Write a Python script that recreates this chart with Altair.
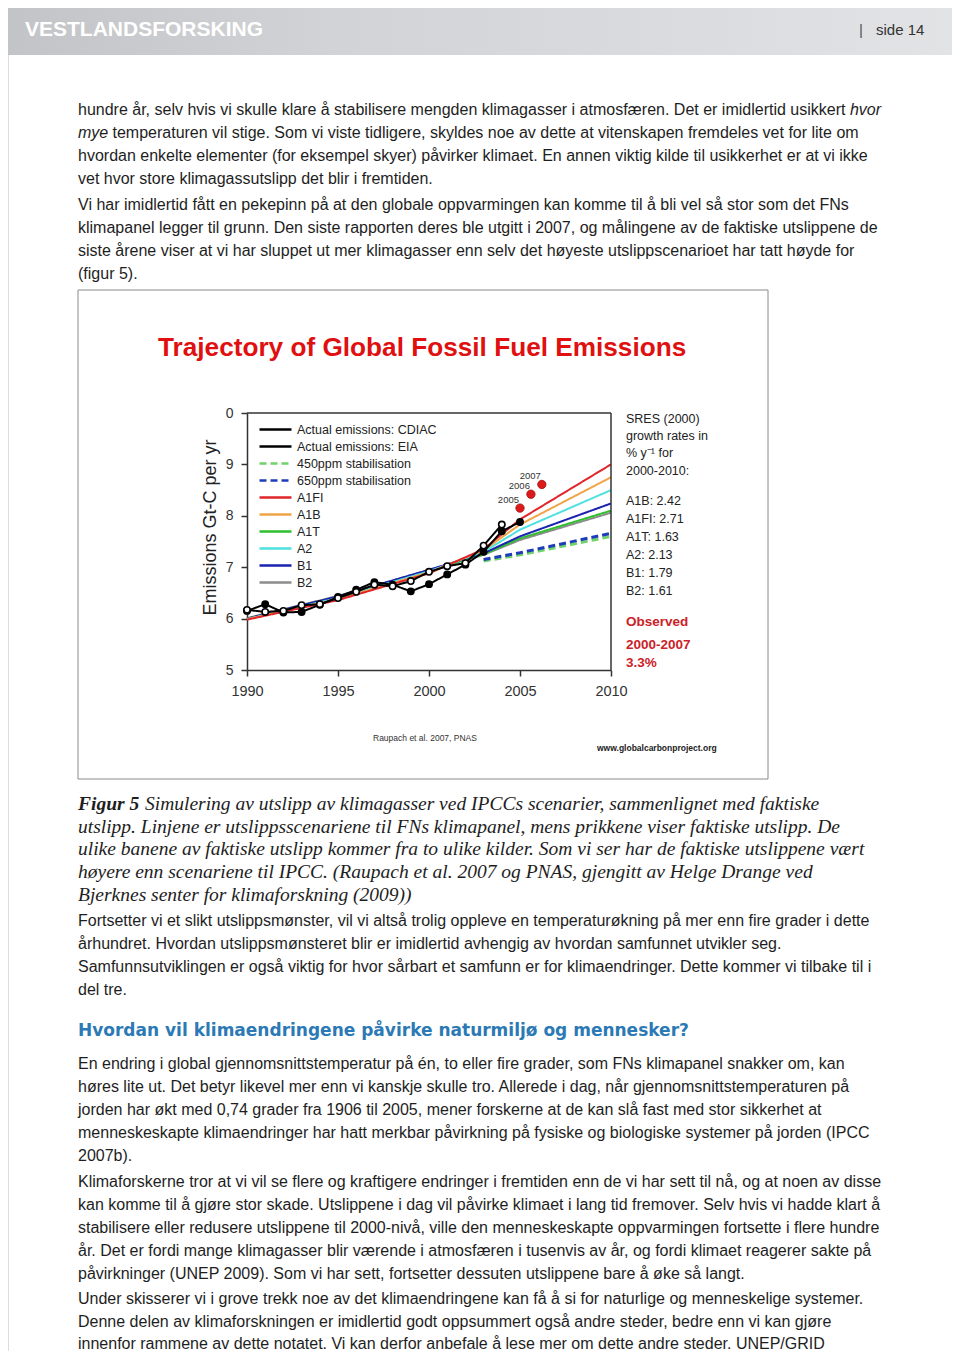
import altair as alt
import pandas as pd

W, H = 944, 1343
OX, OY = 8, 8  # page margin: page px -> chart px

SANS = "Liberation Sans, Arial, Helvetica, sans-serif"
SERIF = "Liberation Serif, Times New Roman, serif"
TXT = "#1e1e1e"

# ---------------- chart data ----------------
obs_years = list(range(1990, 2006))
cdiac_vals = [6.15, 6.28, 6.12, 6.13, 6.27, 6.42, 6.56, 6.71, 6.66, 6.53,
              6.67, 6.86, 7.05, 7.30, 7.70, 7.88]
eia_years = list(range(1990, 2005))
eia_vals = [6.17, 6.13, 6.15, 6.26, 6.28, 6.40, 6.52, 6.66, 6.63, 6.73,
            6.91, 7.02, 7.08, 7.42, 7.83]

scen_years = [1990, 1995, 2000, 2003, 2005, 2010]
a1fi_vals = [5.98, 6.36, 6.88, 7.35, 7.93, 9.00]
a1b_vals = [5.99, 6.38, 6.90, 7.33, 7.83, 8.75]
a2_vals = [5.99, 6.40, 6.92, 7.30, 7.73, 8.50]
b1_vals = [6.00, 6.43, 6.95, 7.27, 7.60, 8.24]
a1t_vals = [6.00, 6.42, 6.93, 7.25, 7.56, 8.10]
b2_vals = [6.01, 6.44, 6.94, 7.24, 7.53, 8.06]

stab_years = [2003, 2005, 2010]
s650_vals = [7.15, 7.28, 7.66]
s450_vals = [7.12, 7.24, 7.60]

recent_years = [2005.0, 2005.6, 2006.2]
recent_vals = [8.15, 8.42, 8.61]
recent_labels = ["2005", "2006", "2007"]

x_ticks = [1990, 1995, 2000, 2005, 2010]
y_ticks = [5, 6, 7, 8, 9, 10]

series_names = ["Actual emissions: CDIAC", "Actual emissions: EIA",
                "450ppm stabilisation", "650ppm stabilisation",
                "A1FI", "A1B", "A1T", "A2", "B1", "B2"]
series_colors = ["#000000", "#000000", "#6fd36a", "#1f3db8",
                 "#e0262a", "#f0a448", "#2fbf2f", "#4fe0e0", "#1a22b0", "#8c8c8c"]
series_dashes = [[1, 0], [1, 0], [7, 4], [7, 4],
                 [1, 0], [1, 0], [1, 0], [1, 0], [1, 0], [1, 0]]

sres_head = ["SRES (2000)", "growth rates in", "% y\u207b\u00b9 for", "2000-2010:"]
sres_rates = ["A1B: 2.42", "A1FI: 2.71", "A1T: 1.63", "A2: 2.13", "B1: 1.79", "B2: 1.61"]
observed = ["Observed", "2000-2007", "3.3%"]

# ---------------- page text ----------------
p1_line1 = "hundre år, selv hvis vi skulle klare å stabilisere mengden klimagasser i atmosfæren. Det er imidlertid usikkert"
p1_line2 = "temperaturen vil stige. Som vi viste tidligere, skyldes noe av dette at vitenskapen fremdeles vet for lite om"
p1_rest = ["hvordan enkelte elementer (for eksempel skyer) påvirker klimaet. En annen viktig kilde til usikkerhet er at vi ikke",
           "vet hvor store klimagassutslipp det blir i fremtiden."]
p2 = ["Vi har imidlertid fått en pekepinn på at den globale oppvarmingen kan komme til å bli vel så stor som det FNs",
      "klimapanel legger til grunn. Den siste rapporten deres ble utgitt i 2007, og målingene av de faktiske utslippene de",
      "siste årene viser at vi har sluppet ut mer klimagasser enn selv det høyeste utslippscenarioet har tatt høyde for",
      "(figur 5)."]
cap_first = "Simulering av utslipp av klimagasser ved IPCCs scenarier, sammenlignet med faktiske"
cap_rest = ["utslipp. Linjene er utslippsscenariene til FNs klimapanel, mens prikkene viser faktiske utslipp. De",
            "ulike banene av faktiske utslipp kommer fra to ulike kilder. Som vi ser har de faktiske utslippene vært",
            "høyere enn scenariene til IPCC. (Raupach et al. 2007 og PNAS, gjengitt av Helge Drange ved",
            "Bjerknes senter for klimaforskning (2009))"]
p3 = ["Fortsetter vi et slikt utslippsmønster, vil vi altså trolig oppleve en temperaturøkning på mer enn fire grader i dette",
      "århundret. Hvordan utslippsmønsteret blir er imidlertid avhengig av hvordan samfunnet utvikler seg.",
      "Samfunnsutviklingen er også viktig for hvor sårbart et samfunn er for klimaendringer. Dette kommer vi tilbake til i",
      "del tre."]
heading = "Hvordan vil klimaendringene påvirke naturmiljø og mennesker?"
p4 = ["En endring i global gjennomsnittstemperatur på én, to eller fire grader, som FNs klimapanel snakker om, kan",
      "høres lite ut. Det betyr likevel mer enn vi kanskje skulle tro. Allerede i dag, når gjennomsnittstemperaturen på",
      "jorden har økt med 0,74 grader fra 1906 til 2005, mener forskerne at de kan slå fast med stor sikkerhet at",
      "menneskeskapte klimaendringer har hatt merkbar påvirkning på fysiske og biologiske systemer på jorden (IPCC",
      "2007b)."]
p5 = ["Klimaforskerne tror at vi vil se flere og kraftigere endringer i fremtiden enn de vi har sett til nå, og at noen av disse",
      "kan komme til å gjøre stor skade. Utslippene i dag vil påvirke klimaet i lang tid fremover. Selv hvis vi hadde klart å",
      "stabilisere eller redusere utslippene til 2000-nivå, ville den menneskeskapte oppvarmingen fortsette i flere hundre",
      "år. Det er fordi mange klimagasser blir værende i atmosfæren i tusenvis av år, og fordi klimaet reagerer sakte på",
      "påvirkninger (UNEP 2009). Som vi har sett, fortsetter dessuten utslippene bare å øke så langt."]
p6 = ["Under skisserer vi i grove trekk noe av det klimaendringene kan få å si for naturlige og menneskelige systemer.",
      "Denne delen av klimaforskningen er imidlertid godt oppsummert også andre steder, bedre enn vi kan gjøre",
      "innenfor rammene av dette notatet. Vi kan derfor anbefale å lese mer om dette andre steder. UNEP/GRID"]

BODY = 16


def tblock(lines, x, yc, fs=BODY, lh=23, font=SANS, style="normal", weight="normal",
           color=TXT, align="left"):
    """Text block; x is page px of anchor, yc page px of first line's visual centre."""
    df = pd.DataFrame({"t": ["\n".join(lines)]})
    return alt.Chart(df).mark_text(
        align=align, baseline="top", lineBreak="\n", lineHeight=lh, font=font,
        fontSize=fs, fontStyle=style, fontWeight=weight, color=color
    ).encode(x=alt.value(x - OX), y=alt.value(yc - OY - 0.43 * fs), text="t:N")


# ---------------- scales / axes ----------------
xs = alt.Scale(domain=[1990, 2010], range=[247 - OX, 611 - OX], nice=False, zero=False)
ys = alt.Scale(domain=[5, 10], range=[670 - OY, 413 - OY], nice=False, zero=False)

xaxis = alt.Axis(values=x_ticks, format="d", title=None, offset=(670 - OY) - H,
                 labelFont=SANS, labelFontSize=14.5, labelColor="#333", labelFlush=False,
                 domainColor="#333", domainWidth=1.5, tickColor="#333", tickWidth=1.5,
                 tickSize=6, labelPadding=8, grid=False)
yaxis = alt.Axis(values=y_ticks, labelExpr="datum.value == 10 ? '0' : datum.label",
                 title="Emissions Gt-C per yr", offset=-(247 - OX), labelFlush=False,
                 labelFont=SANS, labelFontSize=14, labelColor="#333",
                 domainColor="#333", domainWidth=1.5, tickColor="#333", tickWidth=1.5,
                 tickSize=6, labelPadding=8, grid=False,
                 titleFont=SANS, titleFontSize=18, titleFontWeight="normal", titleColor="#222",
                 titleX=-37, titleY=527 - OY, titleAngle=270, titleAlign="center",
                 titleBaseline="middle")

leg = alt.Legend(orient="none", legendX=269 - OX, legendY=423 - OY, direction="vertical",
                 title=None, labelFont=SANS, labelFontSize=12.5, labelColor="#222",
                 symbolType="M-3.2,0H3.2", symbolSize=100, symbolStrokeWidth=2.5,
                 rowPadding=4, labelOffset=15, padding=0)
cscale = alt.Scale(domain=series_names, range=series_colors)
dscale = alt.Scale(domain=series_names, range=series_dashes)

X = alt.X("year:Q", scale=xs, axis=xaxis)
Y = alt.Y("value:Q", scale=ys, axis=yaxis)
C = alt.Color("series:N", scale=cscale, legend=leg, sort=series_names)
D = alt.StrokeDash("series:N", scale=dscale, legend=leg, sort=series_names)

# long tables
scen_rows = []
for name, vals in [("B2", b2_vals), ("A1T", a1t_vals), ("B1", b1_vals), ("A2", a2_vals),
                   ("A1B", a1b_vals), ("A1FI", a1fi_vals)]:
    for yr, v in zip(scen_years, vals):
        scen_rows.append({"series": name, "year": yr, "value": v})
scen_df = pd.DataFrame(scen_rows)

stab_rows = []
for name, vals in [("450ppm stabilisation", s450_vals), ("650ppm stabilisation", s650_vals)]:
    for yr, v in zip(stab_years, vals):
        stab_rows.append({"series": name, "year": yr, "value": v})
stab_df = pd.DataFrame(stab_rows)

obs_rows = [{"series": "Actual emissions: CDIAC", "year": y, "value": v} for y, v in zip(obs_years, cdiac_vals)]
obs_rows += [{"series": "Actual emissions: EIA", "year": y, "value": v} for y, v in zip(eia_years, eia_vals)]
obs_df = pd.DataFrame(obs_rows)

recent_df = pd.DataFrame({"year": recent_years, "value": recent_vals, "label": recent_labels})
frame_df = pd.DataFrame({"year": [1990, 2010], "year2": [2010, 2010],
                         "value": [10, 5], "value2": [10, 10]})

# ---------------- layers ----------------
one = pd.DataFrame({"a": [0]})

banner = alt.Chart(one).mark_rect(
    color=alt.Gradient(gradient="linear", x1=0, x2=1, y1=0, y2=0,
                       stops=[alt.GradientStop(color="#c3c4c7", offset=0),
                              alt.GradientStop(color="#d2d3d6", offset=0.35),
                              alt.GradientStop(color="#dadbde", offset=0.7),
                              alt.GradientStop(color="#e2e3e5", offset=1)])
).encode(x=alt.value(0), x2=alt.value(W), y=alt.value(0), y2=alt.value(55 - OY))

logo = tblock(["VESTLANDSFORSKING"], 25, 28, fs=21, weight="bold", color="#ffffff")
pagebar = tblock(["|"], 859, 29, fs=15, color="#555")
pageno = tblock(["side 14"], 876, 29, fs=15, color="#333")

box = alt.Chart(one).mark_rect(fillOpacity=0, stroke="#8a8a8a", strokeWidth=1).encode(
    x=alt.value(78 - OX), x2=alt.value(768 - OX), y=alt.value(290 - OY), y2=alt.value(779 - OY))

fig_title = tblock(["Trajectory of Global Fossil Fuel Emissions"], 158, 346, fs=26.2,
                   weight="bold", color="#e01010")

frame_top = alt.Chart(frame_df).mark_rule(color="#333", strokeWidth=1.5).encode(
    x=X, x2="year2:Q", y=Y, y2="value2:Q")

stab = alt.Chart(stab_df).mark_line(strokeWidth=3).encode(x=X, y=Y, color=C, strokeDash=D)
scen = alt.Chart(scen_df).mark_line(strokeWidth=2).encode(x=X, y=Y, color=C, strokeDash=D)
obs_line = alt.Chart(obs_df).mark_line(strokeWidth=2).encode(x=X, y=Y, color=C, strokeDash=D)
obs_pts = alt.Chart(obs_df).mark_point(shape="circle", filled=True, size=40, opacity=1,
                                       strokeWidth=1.6).encode(
    x=X, y=Y,
    fill=alt.Fill("series:N", scale=alt.Scale(domain=series_names[:2], range=["#000000", "#ffffff"]),
                  legend=None),
    stroke=alt.value("#000000"))
recent = alt.Chart(recent_df).mark_circle(size=70, color="#dd1a1a", opacity=1,
                                          stroke="#a01010", strokeWidth=0.8).encode(x=X, y=Y)
recent_txt = alt.Chart(recent_df).mark_text(align="right", baseline="middle", dx=-1, dy=-8,
                                            font=SANS, fontSize=9.5, color="#333").encode(
    x=X, y=Y, text="label:N")

sres1 = tblock(sres_head, 626, 418, fs=12.5, lh=17.3, color="#222")
sres2 = tblock(sres_rates, 626, 500, fs=12.5, lh=18, color="#222")
obs1 = tblock(observed[:1], 626, 621, fs=13.5, weight="bold", color="#cc2229")
obs2 = tblock(observed[1:], 626, 644, fs=13.5, lh=18, weight="bold", color="#cc2229")
src1 = tblock(["Raupach et al. 2007, PNAS"], 373, 738, fs=8.5, color="#333")
src2 = tblock(["www.globalcarbonproject.org"], 597, 748, fs=8.5, weight="bold", color="#222")

# body text
t_p1a = tblock([p1_line1], 78, 109)
t_hvor = tblock(["hvor"], 881, 109, style="italic", align="right")
t_mye = tblock(["mye"], 78, 132, style="italic")
t_p1b = tblock([p1_line2], 112.5, 132)
t_p1c = tblock(p1_rest, 78, 155)
t_p2 = tblock(p2, 78, 204)
t_fig5 = tblock(["Figur 5"], 78, 803, fs=19.5, font=SERIF, style="italic", weight="bold")
t_cap1 = tblock([cap_first], 145, 803, fs=19.5, font=SERIF, style="italic")
t_cap2 = tblock(cap_rest, 78, 826, fs=19.5, lh=22.75, font=SERIF, style="italic")
t_p3 = tblock(p3, 78, 920)
t_head = tblock([heading], 78, 1030, fs=17, font="DejaVu Sans, sans-serif", weight="bold",
                color="#2b79b5")
t_p4 = tblock(p4, 78, 1063)
t_p5 = tblock(p5, 78, 1181)
t_p6 = tblock(p6, 78, 1298, lh=22.5)

chart = alt.layer(
    banner, logo, pagebar, pageno,
    t_p1a, t_hvor, t_mye, t_p1b, t_p1c, t_p2,
    box, fig_title,
    stab, scen, frame_top, obs_line, obs_pts, recent, recent_txt,
    sres1, sres2, obs1, obs2, src1, src2,
    t_fig5, t_cap1, t_cap2, t_p3, t_head, t_p4, t_p5, t_p6,
).properties(
    width=W, height=H, padding=0, autosize=alt.AutoSizeParams(type="none")
).configure_view(stroke=None).configure(background="white")

chart.save("out.html", embed_options={"renderer": "svg", "actions": False})
